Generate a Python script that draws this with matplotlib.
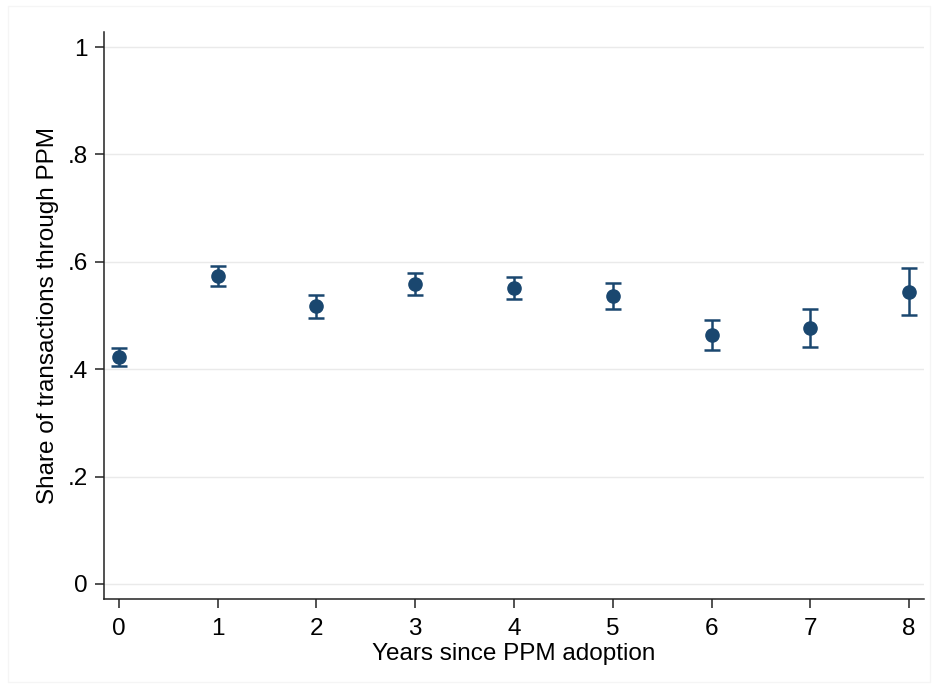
import matplotlib
matplotlib.use('Agg')
import matplotlib.pyplot as plt
import numpy as np

# Data
years = [0, 1, 2, 3, 4, 5, 6, 7, 8]
share = [0.423, 0.574, 0.517, 0.559, 0.551, 0.536, 0.464, 0.476, 0.544]
ci_low = [0.405, 0.554, 0.495, 0.539, 0.530, 0.512, 0.436, 0.441, 0.500]
ci_high = [0.440, 0.593, 0.539, 0.579, 0.572, 0.561, 0.492, 0.512, 0.589]
yticks = [0, 0.2, 0.4, 0.6, 0.8, 1.0]
ytick_labels = ['0', '.2', '.4', '.6', '.8', '1']

plt.rcParams['font.family'] = ['Liberation Sans', 'DejaVu Sans']
navy = '#1a476f'

fig = plt.figure(figsize=(9.38, 6.88), dpi=100)
ax = fig.add_axes([0.1109, 0.1294, 0.985 - 0.1109, 0.9535 - 0.1294])

# faint outer frame like the Stata graph region
fig.patches.append(plt.Rectangle((0.008, 0.008), 0.984, 0.984, transform=fig.transFigure,
                                 fill=False, edgecolor='#f5f5f5', lw=1.0))

share = np.array(share)
yerr = [share - np.array(ci_low), np.array(ci_high) - share]
ax.errorbar(years, share, yerr=yerr, fmt='o', color=navy, ms=9.5, elinewidth=1.8,
            capsize=6, capthick=1.8, zorder=3)

ax.set_xlim(-0.15, 8.15)
ax.set_ylim(-0.028, 1.028)
ax.set_xticks(years)
ax.set_yticks(yticks)
ax.set_yticklabels(ytick_labels)
ax.grid(axis='y', color='#eaeaea', lw=1.0)
ax.set_axisbelow(True)

for s in ['top', 'right']:
    ax.spines[s].set_visible(False)
for s in ['left', 'bottom']:
    ax.spines[s].set_color('#222222')
    ax.spines[s].set_linewidth(1.1)

ax.tick_params(axis='both', labelsize=17.5, length=6.5, width=1.1, color='#222222')
ax.tick_params(axis='y', pad=5)
ax.tick_params(axis='x', pad=7)

ax.set_xlabel('Years since PPM adoption', fontsize=17.5, labelpad=2)
ax.set_ylabel('Share of transactions through PPM', fontsize=17.5, labelpad=6)

plt.savefig('out.png', dpi=100)
